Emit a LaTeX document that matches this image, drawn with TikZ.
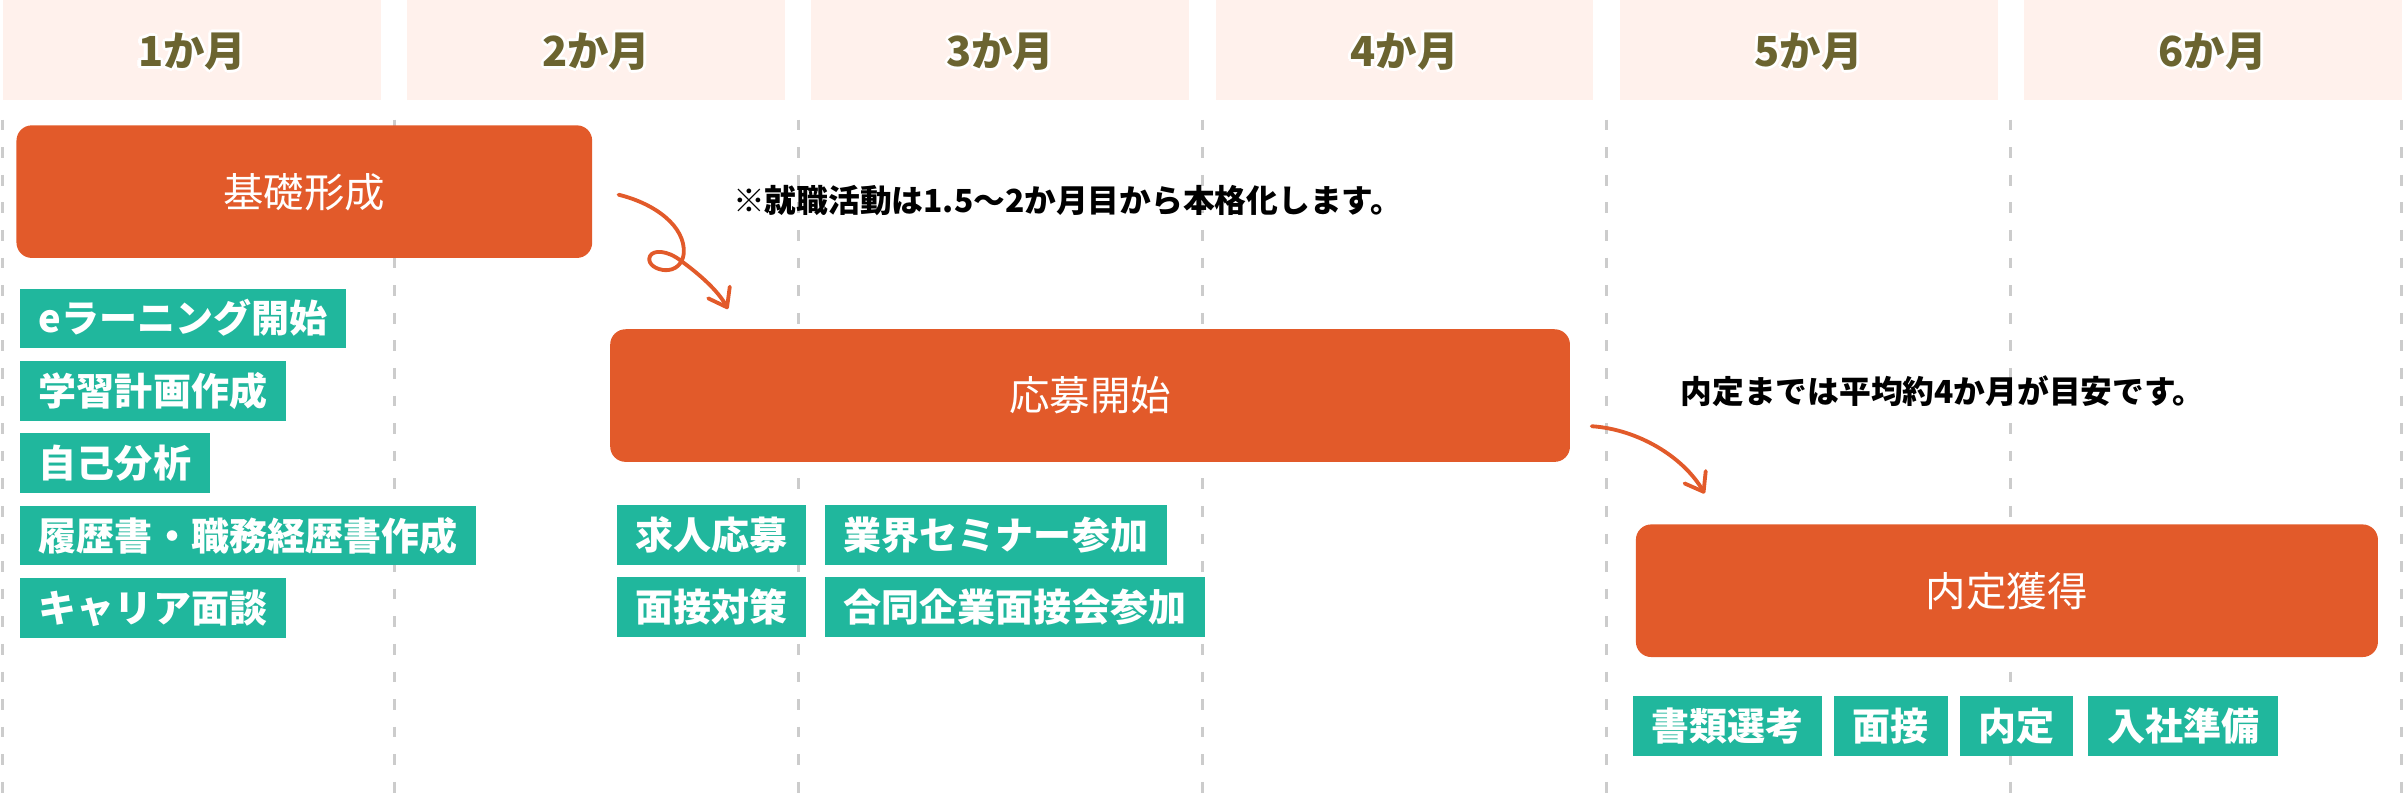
\documentclass[tikz,border=0pt]{standalone}
\usepackage{fontspec}
\setmainfont{Noto Sans CJK JP}
\usetikzlibrary{positioning,calc,arrows.meta}
\definecolor{stageorange}{HTML}{E25A2A}
\definecolor{tagteal}{HTML}{20B79D}
\definecolor{headpink}{HTML}{FFF1EC}
\definecolor{headolive}{HTML}{6B6430}
\definecolor{gridgray}{HTML}{CCCCCC}

\begin{document}
\begin{tikzpicture}[x=1pt,y=-1pt,
	stagebox/.style={fill=stageorange,rounded corners=10pt,text=white,minimum height=86.5pt,inner sep=0pt,
		text height=21.9pt,text depth=1.8pt,font=\fontsize{26.4}{30}\selectfont},
	tagbox/.style={fill=tagteal,text=white,anchor=north west,minimum height=39pt,inner xsep=12.2pt,inner ysep=0pt,
		text height=20.6pt,text depth=1.7pt,font=\bfseries\fontsize{24.8}{28}\selectfont},
	notetext/.style={anchor=west,inner sep=0pt,text height=17.2pt,text depth=1.4pt,font=\bfseries\fontsize{20.7}{24}\selectfont},
	monthtext/.style={text=headolive,inner sep=0pt,text height=22.4pt,text depth=1.9pt,font=\bfseries\fontsize{27}{30}\selectfont},
	gridline/.style={gridgray,line width=2pt,dash pattern=on 7pt off 11pt},
	flowarrow/.style={stageorange,line width=2.5pt,line cap=round,line join=round,-{Straight Barb[length=11pt,width=16pt,round]}}]

	\useasboundingbox (0,0) rectangle (1568,527);

	% months, white halo behind the label
	\foreach \i in {1,...,6} {
		\fill[headpink] ({2+263.6*(\i-1)},0) rectangle ++(246.5,65.5);
		\foreach \a in {0,45,...,315}
			\node[monthtext,text=white] at ($({125.25+263.6*(\i-1)},33)+(\a:2pt)$) {\i か月};
		\node[monthtext] (m\i) at ({125.25+263.6*(\i-1)},33) {\i か月};
	}

	\foreach \x in {1.5,257.1,520.7,784.3,1047.9,1311.5,1566.5}
		\draw[gridline] (\x,78) -- (\x,527);

	% stages
	\node[stagebox,minimum width=375.5pt] (base) at (198.5,125) {基礎形成};
	\node[stagebox,minimum width=626pt] (apply) at (711,258) {応募開始};
	\node[stagebox,minimum width=484pt] (offer) at (1309,385.3) {内定獲得};

	% tags, month 1
	\node[tagbox] (e1) at (13,188) {eラーニング開始};
	\node[tagbox,below=7.8pt of e1.south west,anchor=north west] (e2) {学習計画作成};
	\node[tagbox,below=7.8pt of e2.south west,anchor=north west] (e3) {自己分析};
	\node[tagbox,below=7.8pt of e3.south west,anchor=north west] (e4) {履歴書・職務経歴書作成};
	\node[tagbox,below=7.8pt of e4.south west,anchor=north west] (e5) {キャリア面談};

	% tags, apply
	\node[tagbox] (p1) at (402,329) {求人応募};
	\node[tagbox,right=12pt of p1.north east,anchor=north west] (p2) {業界セミナー参加};
	\node[tagbox,below=8pt of p1.south west,anchor=north west] (p3) {面接対策};
	\node[tagbox,right=12pt of p3.north east,anchor=north west] (p4) {合同企業面接会参加};

	% tags, offer
	\node[tagbox] (o1) at (1064.6,454) {書類選考};
	\node[tagbox,right=7.5pt of o1.north east,anchor=north west] (o2) {面接};
	\node[tagbox,right=7.5pt of o2.north east,anchor=north west] (o3) {内定};
	\node[tagbox,right=9.5pt of o3.north east,anchor=north west] (o4) {入社準備};

	% notes
	\node[notetext] (n1) at (478,131) {※就職活動は1.5〜2か月目から本格化します。};
	\node[notetext] (n2) at (1096,255) {内定までは平均約4か月が目安です。};

	% arrows
	\coordinate (a1s) at ($(base.east)+(17,2)$);
	\coordinate (a1e) at ($(apply.north west)+(77,-13)$);
	\coordinate (a2s) at ($(apply.east)+(14,20)$);
	\coordinate (a2e) at ($(offer.north west)+(45,-20)$);

	\draw[flowarrow] (a1s) .. controls (428,133) and (447,148) .. (446,165)
		.. controls (445,175) and (437,177) .. (432,176)
		.. controls (426,175) and (422,171) .. (424,167)
		.. controls (426,163) and (435,163) .. (444,170)
		.. controls (455,178) and (468,189) .. (a1e);
	\draw[flowarrow] (a2s) .. controls +(30,2) and +(-14,-24) .. (a2e);

\end{tikzpicture}
\end{document}
